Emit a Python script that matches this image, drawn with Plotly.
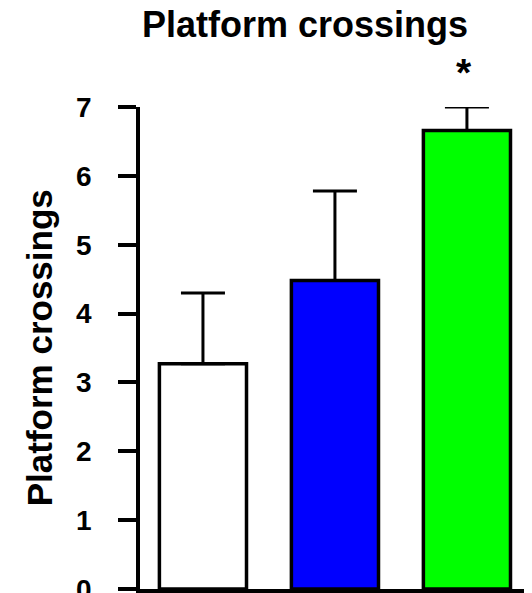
import plotly.graph_objects as go

categories = ["Group A", "Group B", "Group C"]
means = [3.27, 4.48, 6.66]
sem_plus = [1.03, 1.30, 0.34]
bar_colors = ["#FFFFFF", "#0000FF", "#00FF00"]
significance = ["", "", "*"]
y_ticks = [0, 1, 2, 3, 4, 5, 6, 7]

FONT = "Arial, Liberation Sans, Helvetica, sans-serif"

fig = go.Figure()
fig.add_trace(go.Bar(
    x=categories,
    y=means,
    width=0.66,
    marker=dict(color=bar_colors, line=dict(color="black", width=3.5)),
    error_y=dict(type="data", symmetric=False, array=sem_plus,
                 arrayminus=[0] * len(means), color="black",
                 thickness=3, width=22),
    showlegend=False,
))

for cat, m, e, s in zip(categories, means, sem_plus, significance):
    if s:
        fig.add_annotation(x=cat, y=m + e, yshift=11, xshift=-3,
                           text="<b>" + s + "</b>",
                           showarrow=False, yanchor="bottom",
                           font=dict(family=FONT, size=39, color="black"))

fig.add_annotation(xref="paper", yref="paper", x=0.421, y=1.172,
                   text="<b>Platform crossings</b>", showarrow=False,
                   xanchor="center", yanchor="middle",
                   font=dict(family=FONT, size=36, color="black"))

fig.add_annotation(xref="paper", yref="paper", x=-0.257, y=0.5,
                   text="<b>Platform crossings</b>", showarrow=False,
                   textangle=-90, xanchor="center", yanchor="middle",
                   font=dict(family=FONT, size=35, color="black"))

fig.update_layout(
    width=524, height=585,
    margin=dict(l=132, r=0, t=99, b=4, autoexpand=False),
    plot_bgcolor="white", paper_bgcolor="white",
    bargap=0.3,
)
fig.update_xaxes(range=[-0.477, 2.493], showline=True, linecolor="black",
                 linewidth=3.5, showticklabels=False, ticks="",
                 showgrid=False, zeroline=False, automargin=False)
fig.update_yaxes(range=[0, 7], tickvals=y_ticks, showline=True,
                 linecolor="black", linewidth=3.5, ticks="outside",
                 ticklen=18, tickwidth=3.5, tickcolor="black",
                 ticklabelstandoff=21, ticklabeloverflow="allow",
                 automargin=False,
                 tickfont=dict(family=FONT, size=28, color="black", weight="bold"),
                 showgrid=False, zeroline=False)

fig.write_html("out.html")
